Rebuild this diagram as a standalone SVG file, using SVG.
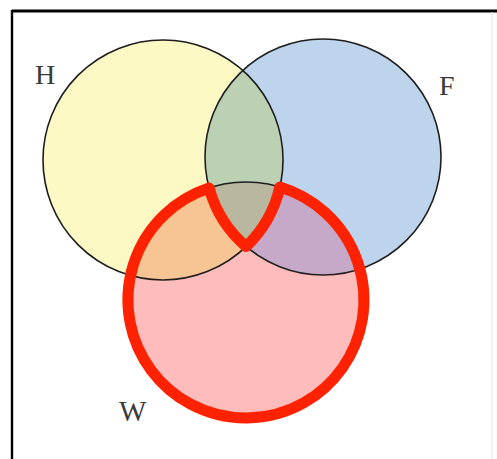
<svg xmlns="http://www.w3.org/2000/svg" width="497" height="459" viewBox="0 0 497 459">
<defs>
<style>
.lbl{font-family:"Liberation Serif","Times New Roman",serif;fill:#3a3a3a;}
.ol{fill:none;stroke:#1e1e1e;stroke-width:1.6;}
</style>
<clipPath id="cH"><circle cx="163" cy="160" r="120"/></clipPath>
<clipPath id="cF"><circle cx="323" cy="157" r="118"/></clipPath>
<clipPath id="cW"><circle cx="246" cy="300" r="118"/></clipPath>
</defs>
<rect x="0" y="0" width="497" height="459" fill="#ffffff"/>
<g id="frame">
<line x1="12" y1="11" x2="497" y2="11" stroke="#000" stroke-width="3"/>
<line x1="12" y1="10" x2="12" y2="459" stroke="#000" stroke-width="2.4"/>
<line x1="492" y1="12" x2="492" y2="459" stroke="#e4e4e4" stroke-width="1"/>
</g>
<g id="regions">
<circle cx="163" cy="160" r="120" fill="#fdf9c4"/>
<circle cx="323" cy="157" r="118" fill="#bdd4ec"/>
<circle cx="246" cy="300" r="118" fill="#ffbcbc"/>
<g clip-path="url(#cH)"><circle cx="323" cy="157" r="118" fill="#bcd0b4"/></g>
<g clip-path="url(#cH)"><circle cx="246" cy="300" r="118" fill="#f6c593"/></g>
<g clip-path="url(#cF)"><circle cx="246" cy="300" r="118" fill="#c6a8c8"/></g>
<g clip-path="url(#cH)"><g clip-path="url(#cF)"><circle cx="246" cy="300" r="118" fill="#bab7a0"/></g></g>
</g>
<g id="H"><circle class="ol" cx="163" cy="160" r="120"/><text class="lbl" x="35" y="84" font-size="28">H</text></g>
<g id="F"><circle class="ol" cx="323" cy="157" r="118"/><text class="lbl" x="439" y="95" font-size="28">F</text></g>
<g id="W"><circle class="ol" cx="246" cy="300" r="118"/><text class="lbl" x="119" y="421" font-size="29">W</text></g>
<g id="connectors">
<path d="M209.1 187.9 A118 118 0 1 0 279.9 187.0 A120 120 0 0 1 246.1 246.6 A118 118 0 0 1 209.1 187.9 Z" fill="none" stroke="#ff2200" stroke-width="11" stroke-linejoin="round"/>
</g>
</svg>
